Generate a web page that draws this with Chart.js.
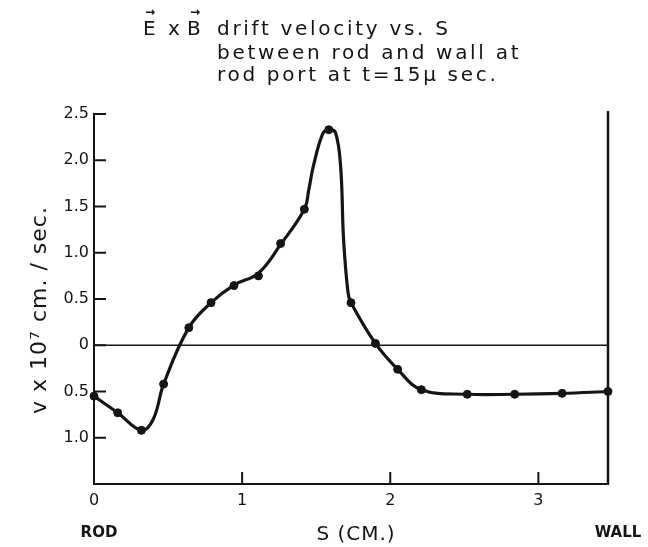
<!DOCTYPE html>
<html>
<head>
<meta charset="utf-8">
<script src="https://cdn.jsdelivr.net/npm/chart.js@4.4.1/dist/chart.umd.min.js"></script>
<style>
  html, body { margin: 0; padding: 0; background: #fff; }
  #plot { display: block; }
</style>
</head>
<body>
<canvas id="plot" width="648" height="547"></canvas>
<script>
// measured points (S in cm, v in 10^7 cm/sec)
const S_DOTS = [0, 0.16, 0.32, 0.47, 0.64, 0.79, 0.945, 1.11, 1.26, 1.42, 1.585, 1.735, 1.90, 2.05, 2.21, 2.52, 2.84, 3.16, 3.47];
const V_DOTS = [-0.55, -0.73, -0.92, -0.42, 0.19, 0.46, 0.645, 0.75, 1.10, 1.47, 2.33, 0.46, 0.02, -0.26, -0.48, -0.53, -0.53, -0.52, -0.50];

// hand-drawn curve
const S_CURVE = [0, 0.16, 0.32, 0.40, 0.47, 0.64, 0.79, 0.945, 1.11, 1.26, 1.42, 1.45, 1.48, 1.545, 1.585, 1.63, 1.665, 1.685, 1.715, 1.735, 1.90, 2.05, 2.21, 2.52, 2.84, 3.16, 3.47];
const V_CURVE = [-0.55, -0.73, -0.92, -0.80, -0.42, 0.19, 0.46, 0.65, 0.78, 1.09, 1.47, 1.68, 1.93, 2.29, 2.33, 2.30, 1.93, 1.14, 0.57, 0.46, 0.02, -0.26, -0.48, -0.53, -0.53, -0.52, -0.50];

const X_TICKS = [0, 1, 2, 3];
const Y_TICKS = [2.5, 2.0, 1.5, 1.0, 0.5, 0, -0.5, -1.0];
const WALL_S = 3.47;
const Y_MIN = -1.5;
const Y_MAX = 2.5;

const INK = '#151515';
const FONT = '"DejaVu Sans", sans-serif';

function toPoints(xs, ys) {
    return xs.map((x, i) => ({ x: x, y: ys[i] }));
}

// inward ticks, zero line, wall line and all the free text
const decorations = {
    id: 'decorations',
    afterDraw(chart) {
        const ctx = chart.ctx;
        const xs = chart.scales.x;
        const ys = chart.scales.y;
        const area = chart.chartArea;
        ctx.save();
        ctx.strokeStyle = INK;
        ctx.lineCap = 'butt';

        // y ticks pointing into the plot
        ctx.lineWidth = 2;
        Y_TICKS.forEach(v => {
            const py = ys.getPixelForValue(v);
            ctx.beginPath();
            ctx.moveTo(area.left, py);
            ctx.lineTo(area.left + 12, py);
            ctx.stroke();
        });
        // x ticks pointing up
        X_TICKS.filter(v => v !== 0).forEach(v => {
            const px = xs.getPixelForValue(v);
            ctx.beginPath();
            ctx.moveTo(px, area.bottom);
            ctx.lineTo(px, area.bottom - 12);
            ctx.stroke();
        });

        // zero line
        const y0 = ys.getPixelForValue(0);
        const xw = xs.getPixelForValue(WALL_S);
        ctx.lineWidth = 1.6;
        ctx.beginPath();
        ctx.moveTo(area.left, y0);
        ctx.lineTo(xw, y0);
        ctx.stroke();

        // wall
        ctx.lineWidth = 2.5;
        ctx.beginPath();
        ctx.moveTo(xw, ys.getPixelForValue(Y_MAX) - 3);
        ctx.lineTo(xw, area.bottom + 1);
        ctx.stroke();

        ctx.fillStyle = INK;
        // title
        ctx.font = '20px ' + FONT;
        ctx.textBaseline = 'middle';
        ctx.textAlign = 'left';
        ctx.fillText('E', 143, 30);
        ctx.fillText('x', 168, 30);
        ctx.fillText('B', 187, 30);
        ctx.font = 'bold 12px ' + FONT;
        ctx.textAlign = 'center';
        ctx.fillText('\u2192', 150, 13);
        ctx.fillText('\u2192', 195, 13);
        ctx.font = '20px ' + FONT;
        ctx.textAlign = 'left';
        ctx.letterSpacing = '2.7px';
        ctx.fillText('drift velocity vs. S', 217, 30);
        ctx.fillText('between rod and wall at', 217, 54);
        ctx.fillText('rod port at t=15\u03bc sec.', 217, 76);

        // y axis title
        ctx.save();
        ctx.translate(40, 310);
        ctx.rotate(-Math.PI / 2);
        ctx.textAlign = 'center';
        ctx.font = '22px ' + FONT;
        ctx.letterSpacing = '1px';
        ctx.fillText('v x 10\u2077 cm. / sec.', 0, 0);
        ctx.restore();

        // x axis title and ends
        ctx.textAlign = 'center';
        ctx.letterSpacing = '1px';
        ctx.font = '20px ' + FONT;
        ctx.fillText('S (CM.)', 356, 535);
        ctx.letterSpacing = '0px';
        ctx.font = 'bold 15px ' + FONT;
        ctx.fillText('ROD', 99, 533);
        ctx.fillText('WALL', 618, 533);
        ctx.restore();
    }
};

new Chart(document.getElementById('plot'), {
    type: 'scatter',
    data: {
        datasets: [
            {
                label: 'curve',
                data: toPoints(S_CURVE, V_CURVE),
                showLine: true,
                borderColor: INK,
                borderWidth: 3.2,
                pointRadius: 0,
                tension: 0.4,
                clip: false
            },
            {
                label: 'measured',
                data: toPoints(S_DOTS, V_DOTS),
                showLine: false,
                backgroundColor: INK,
                borderColor: INK,
                pointRadius: 4,
                clip: false
            }
        ]
    },
    options: {
        responsive: false,
        animation: false,
        layout: { padding: { top: 114, right: 40, left: 0, bottom: 0 } },
        plugins: {
            legend: { display: false },
            tooltip: { enabled: false }
        },
        scales: {
            x: {
                type: 'linear',
                min: 0,
                max: WALL_S,
                afterFit: scale => { scale.height = 63; },
                afterBuildTicks: scale => { scale.ticks = X_TICKS.map(v => ({ value: v })); },
                grid: { display: false, drawTicks: false },
                border: { display: true, color: INK, width: 2 },
                ticks: {
                    color: INK,
                    padding: 7,
                    maxRotation: 0,
                    font: { family: FONT, size: 16 },
                    callback: v => String(v)
                }
            },
            y: {
                type: 'linear',
                min: Y_MIN,
                max: Y_MAX,
                afterFit: scale => { scale.width = 94; },
                afterBuildTicks: scale => { scale.ticks = Y_TICKS.map(v => ({ value: v })); },
                grid: { display: false, drawTicks: false },
                border: { display: true, color: INK, width: 2 },
                ticks: {
                    color: INK,
                    padding: 5,
                    font: { family: FONT, size: 16 },
                    callback: v => (v === 0 ? '0' : Math.abs(v).toFixed(1))
                }
            }
        }
    },
    plugins: [decorations]
});
</script>
</body>
</html>
